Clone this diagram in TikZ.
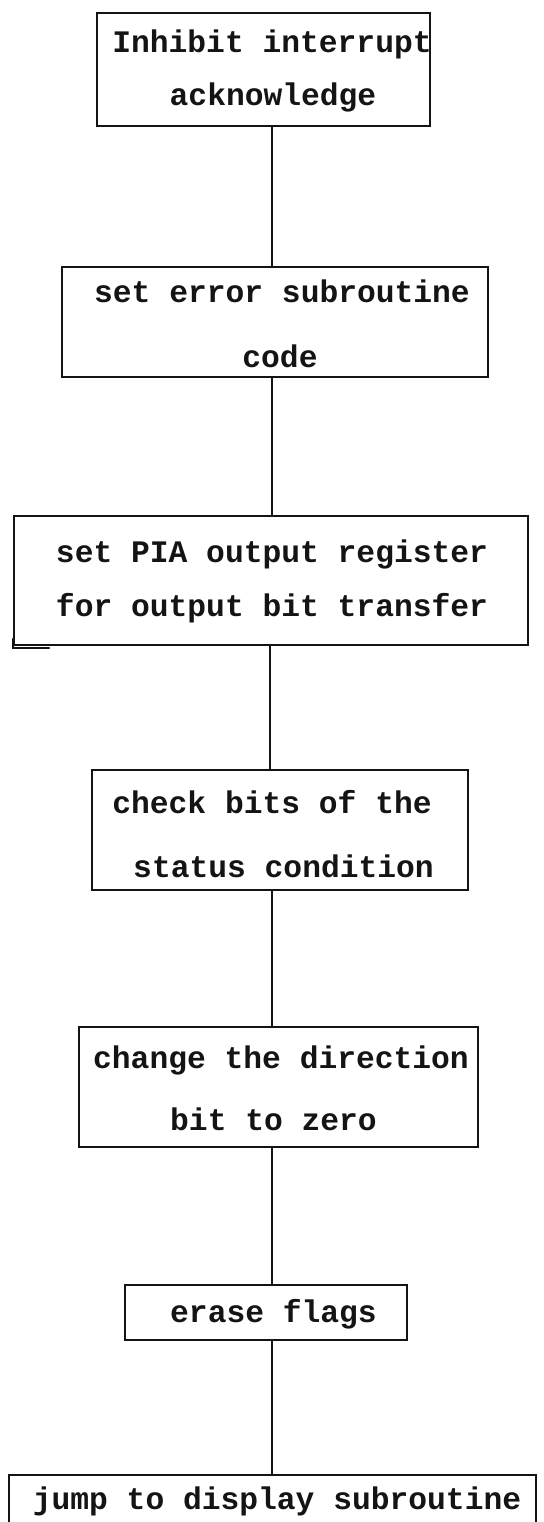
\documentclass[tikz,border=0pt]{standalone}
\usepackage{fontspec}
\newfontfamily\typer{Liberation Mono}
% a process box given by its corners (x1,y1) and (x2,y2)
\newcommand{\flowbox}[5]{%
  \node[stepbox, minimum width={(#4-#2)*1pt}, minimum height={(#5-#3)*1pt}]
    (#1) at ({(#2+#4)/2},{(#3+#5)/2}) {};}
\begin{document}
\begin{tikzpicture}[x=1pt,y=-1pt,
  stepbox/.style={draw=black!92, line width=1.8pt, inner sep=0pt, outer sep=0pt},
  words/.style={font=\typer\bfseries\fontsize{31.3}{40}\selectfont,
                inner sep=0pt, anchor=base, text=black!92},
  link/.style={draw=black!92, line width=1.8pt}]
\useasboundingbox (0,0) rectangle (543,1522);
\clip (0,0) rectangle (543,1522);

% boxes
\flowbox{b1}{97}{13}{430}{126}
\flowbox{b2}{62}{267}{488}{377}
\flowbox{b3}{14}{516}{528}{645}
\flowbox{b4}{92}{770}{468}{890}
\flowbox{b5}{79}{1027}{478}{1147}
\flowbox{b6}{125}{1285}{407}{1340}
\flowbox{b7}{9}{1475}{536}{1560}

% box texts
\node[words] (t1a) at (272,53)   {Inhibit interrupt};
\node[words] (t1b) at (273,106)  {acknowledge};
\node[words] (t2a) at (282,302)  {set error subroutine};
\node[words] (t2b) at (280,367)  {code};
\node[words] (t3a) at (272,562)  {set PIA output register};
\node[words] (t3b) at (272,616)  {for output bit transfer};
\node[words] (t4a) at (272,813)  {check bits of the};
\node[words] (t4b) at (283.5,877){status condition};
\node[words] (t5a) at (281,1068) {change the direction};
\node[words] (t5b) at (273.5,1130){bit to zero};
\node[words] (t6a) at (273.5,1322){erase flags};
\node[words] (t7a) at (277,1509) {jump to display subroutine};

% flow line
\coordinate (spine) at (272,0);
\coordinate (spineb) at (270,0);
\draw[link] (b1.south -| spine)  -- (b2.north -| spine);
\draw[link] (b2.south -| spine)  -- (b3.north -| spine);
\draw[link] (b3.south -| spineb) -- (b4.north -| spineb);
\draw[link] (b4.south -| spine)  -- (b5.north -| spine);
\draw[link] (b5.south -| spine)  -- (b6.north -| spine);
\draw[link] (b6.south -| spine)  -- (b7.north -| spine);

% heavy pen stroke at the lower left corner of the register box
\draw[link, line width=2.6pt, line cap=round]
  (b3.south west) ++(-1,-6) -- ++(0,9) -- ++(36,0);
\end{tikzpicture}
\end{document}
